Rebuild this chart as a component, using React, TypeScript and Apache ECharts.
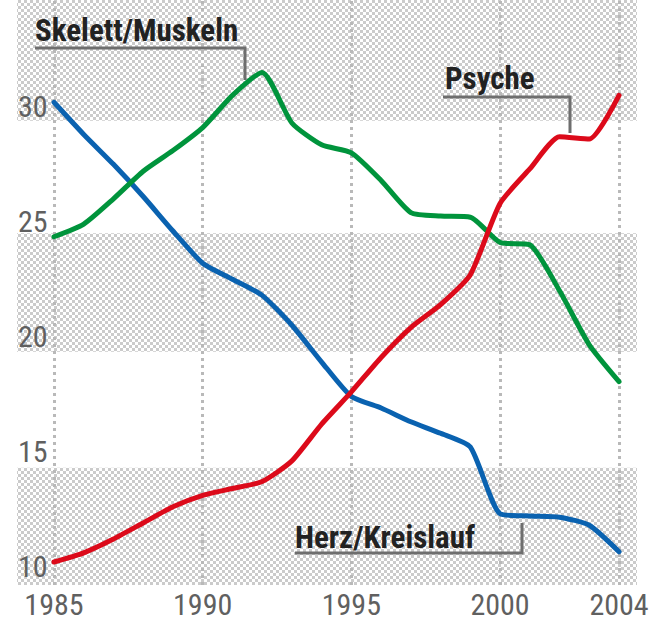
import React, { useEffect, useRef } from "react";
import * as echarts from "echarts";

const years = [1985, 1986, 1987, 1988, 1989, 1990, 1991, 1992, 1993, 1994, 1995, 1996, 1997, 1998, 1999, 2000, 2001, 2002, 2003, 2004];
const herzKreislauf = [30.2, 28.8, 27.5, 26.1, 24.6, 23.2, 22.5, 21.8, 20.5, 18.9, 17.4, 16.9, 16.3, 15.8, 15.2, 12.3, 12.2, 12.15, 11.8, 10.65];
const skelettMuskeln = [24.35, 24.9, 26.0, 27.2, 28.1, 29.1, 30.5, 31.5, 29.3, 28.35, 28.0, 26.8, 25.4, 25.25, 25.2, 24.1, 24.0, 22.0, 19.65, 18.05];
const psyche = [10.2, 10.6, 11.2, 11.9, 12.6, 13.1, 13.4, 13.7, 14.6, 16.2, 17.6, 19.1, 20.4, 21.4, 22.7, 25.8, 27.3, 28.7, 28.6, 30.5];
const xTicks = [1985, 1990, 1995, 2000, 2004];
const yTicks = [10, 15, 20, 25, 30];
const bands = [
  [9.2, 14.3],
  [19.35, 24.5],
  [29.4, 34.65],
];

const NARROW = "'Liberation Sans Narrow', 'Roboto Condensed', 'DejaVu Sans Condensed', sans-serif";

export default function App() {
  const ref = useRef<HTMLDivElement>(null);
  useEffect(() => {
    if (!ref.current) return;
    const chart = echarts.init(ref.current, null, { renderer: "svg" });

    const c = document.createElement("canvas");
    c.width = 6;
    c.height = 6;
    const ctx = c.getContext("2d")!;
    ctx.fillStyle = "#ffffff";
    ctx.fillRect(0, 0, 6, 6);
    ctx.fillStyle = "#cbcbcb";
    ctx.fillRect(0, 0, 3, 3);
    ctx.fillRect(3, 3, 3, 3);
    const pattern: any = { image: c, repeat: "repeat", imageWidth: 6, imageHeight: 6 };

    const toPairs = (arr: number[]) => years.map((y, i) => [y, arr[i]]);
    const lineSeries = (name: string, arr: number[], color: string) => ({
      name,
      type: "line",
      data: toPairs(arr),
      smooth: 0.2,
      showSymbol: false,
      z: 5,
      lineStyle: { color, width: 5, cap: "round", join: "round" },
      emphasis: { disabled: true },
    });

    const label = (text: string, x: number, y: number) => ({
      type: "text",
      x,
      y,
      z: 10,
      style: {
        text,
        font: `bold 31px ${NARROW}`,
        fill: "#222222",
        align: "left",
        verticalAlign: "middle",
        textAlign: "left",
        textVerticalAlign: "middle",
      },
    });
    const leader = (points: number[][]) => ({
      type: "polyline",
      z: 10,
      shape: { points },
      style: { stroke: "#6e6e6e", lineWidth: 3, fill: null },
    });

    chart.setOption({
      animation: false,
      backgroundColor: "#ffffff",
      grid: { left: 17, right: 17, top: 0, bottom: 38 },
      xAxis: {
        type: "value",
        min: 1983.756,
        max: 2004.605,
        z: 10,
        axisLine: { show: false },
        axisTick: { show: false },
        splitLine: { show: false },
        axisLabel: {
          customValues: xTicks,
          formatter: (v: number) => String(v),
          color: "#606060",
          fontSize: 30,
          fontFamily: NARROW,
          margin: 4,
        },
      },
      yAxis: {
        type: "value",
        min: 9.2,
        max: 34.65,
        z: 10,
        axisLine: { show: false },
        axisTick: { show: false },
        splitLine: { show: false },
        axisLabel: {
          customValues: yTicks,
          inside: true,
          margin: 1,
          formatter: (v: number) => String(v),
          color: "#606060",
          fontSize: 30,
          fontFamily: NARROW,
        },
      },
      series: [
        {
          type: "line",
          data: [[years[0], psyche[0]]],
          showSymbol: false,
          lineStyle: { width: 0 },
          z: 1,
          silent: true,
          markArea: {
            silent: true,
            itemStyle: { color: pattern, opacity: 1 },
            data: bands.map((b) => [{ yAxis: b[0] }, { yAxis: b[1] }]),
          },
          markLine: {
            silent: true,
            symbol: ["none", "none"],
            label: { show: false },
            lineStyle: { type: [3, 4], color: "#b9b9b9", width: 3 },
            data: xTicks.map((x) => ({ xAxis: x })),
          },
        },
        lineSeries("Herz/Kreislauf", herzKreislauf, "#0a62b0"),
        lineSeries("Skelett/Muskeln", skelettMuskeln, "#00943c"),
        lineSeries("Psyche", psyche, "#dc0a1a"),
      ],
      graphic: [
        label("Skelett/Muskeln", 35, 30),
        leader([[35, 48], [245, 48], [245, 80]]),
        label("Psyche", 445, 78),
        leader([[443, 97], [570, 97], [570, 133]]),
        label("Herz/Kreislauf", 295, 537),
        leader([[295, 553], [522, 553], [522, 523]]),
      ],
    });

    return () => chart.dispose();
  }, []);

  return (
    <div
      ref={ref}
      style={{ position: "fixed", left: 0, top: 0, width: 654, height: 623, background: "#fff" }}
    />
  );
}
